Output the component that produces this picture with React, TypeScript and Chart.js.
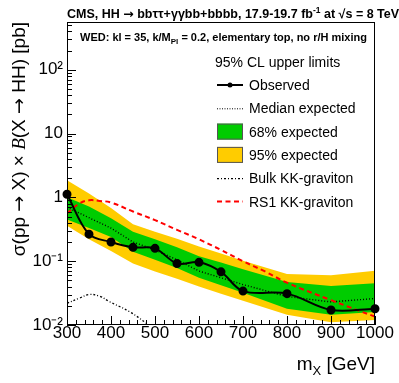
import React, { useEffect, useRef } from 'react';
import { Chart, registerables } from 'chart.js';

Chart.register(...registerables);

// ---------------- data ----------------
const masses = [300, 350, 400, 450, 500, 550, 600, 650, 700, 800, 900, 1000];
const observed = [1.12, 0.265, 0.2, 0.165, 0.159, 0.092, 0.096, 0.068, 0.034, 0.031, 0.0172, 0.018];
const medianExpected = [0.7, 0.48, 0.33, 0.2, 0.15, 0.105, 0.07, 0.055, 0.043, 0.028, 0.023, 0.026];
const band68Up = [1.0, 0.72, 0.47, 0.29, 0.22, 0.165, 0.12, 0.095, 0.075, 0.047, 0.041, 0.045];
const band68Down = [0.45, 0.33, 0.24, 0.14, 0.105, 0.078, 0.055, 0.042, 0.032, 0.018, 0.0145, 0.016];
const band95Up = [1.86, 1.15, 0.68, 0.38, 0.29, 0.225, 0.17, 0.132, 0.102, 0.063, 0.06, 0.071];
const band95Down = [0.36, 0.22, 0.145, 0.092, 0.069, 0.053, 0.04, 0.031, 0.024, 0.0145, 0.011, 0.012];

const rs1Mass = [300, 328, 350, 374, 400, 450, 500, 550, 600, 650, 700, 750, 800, 900, 1000];
const rs1Xsec = [0.56, 0.8, 0.9, 0.88, 0.83, 0.6, 0.44, 0.31, 0.22, 0.15, 0.1, 0.069, 0.046, 0.0245, 0.0135];

const bulkMass = [300, 328, 350, 374, 396, 442, 480, 520];
const bulkXsec = [0.0219, 0.0263, 0.03, 0.0284, 0.0233, 0.0162, 0.0107, 0.0068];

const xLabelValues = [300, 400, 500, 600, 700, 800, 900, 1000];
const yDecades = [0.01, 0.1, 1, 10, 100];
const yDecadeLabels = ['10\u207B\u00B2', '10\u207B\u00B9', '1', '10', '10\u00B2'];

const legendHeader = '95% CL upper limits';
const legendLabels = ['Observed', 'Median expected', '68% expected', '95% expected', 'Bulk KK-graviton', 'RS1 KK-graviton'];

// ---------------- style ----------------
const SANS = '"Liberation Sans", Arial, Helvetica, sans-serif';
const ARROW = '"DejaVu Sans", sans-serif';
const GREEN = '#00cc00';
const YELLOW = '#ffcc00';
const RED = '#ff0000';

type Seg = { t: string; f: string; dy?: number };

function richWidth(ctx: CanvasRenderingContext2D, segs: Seg[]) {
  let w = 0;
  for (const s of segs) {
    ctx.font = s.f;
    w += ctx.measureText(s.t).width;
  }
  return w;
}

function drawRich(ctx: CanvasRenderingContext2D, segs: Seg[], x: number, y: number, align: 'left' | 'right') {
  const w = richWidth(ctx, segs);
  let cx = align === 'right' ? x - w : x;
  ctx.textAlign = 'left';
  ctx.textBaseline = 'alphabetic';
  for (const s of segs) {
    ctx.font = s.f;
    ctx.fillText(s.t, cx, y + (s.dy || 0));
    cx += ctx.measureText(s.t).width;
  }
}

const rootPlugin = {
  id: 'rootDecor',
  afterDraw(chart: any) {
    const ctx: CanvasRenderingContext2D = chart.ctx;
    const { left, right, top, bottom } = chart.chartArea;
    const xs = chart.scales.x;
    const ys = chart.scales.y;
    ctx.save();

    // frame
    ctx.strokeStyle = '#000';
    ctx.lineWidth = 1;
    ctx.setLineDash([]);
    ctx.strokeRect(left + 0.5, top + 0.5, right - left - 1, bottom - top - 1);

    // inward ticks
    ctx.beginPath();
    for (const t of xs.ticks) {
      const px = Math.round(xs.getPixelForValue(t.value)) + 0.5;
      const len = xLabelValues.includes(t.value) ? 9 : 5;
      ctx.moveTo(px, bottom);
      ctx.lineTo(px, bottom - len);
    }
    for (const t of ys.ticks) {
      const py = Math.round(ys.getPixelForValue(t.value)) + 0.5;
      const len = yDecades.some((d) => Math.abs(d - t.value) / d < 1e-6) ? 9 : 5;
      ctx.moveTo(left, py);
      ctx.lineTo(left + len, py);
    }
    ctx.stroke();

    ctx.fillStyle = '#000';
    // top title
    drawRich(
      ctx,
      [
        { t: 'CMS, HH ', f: `bold 12.5px ${SANS}` },
        { t: '\u2192', f: `bold 12.5px ${ARROW}` },
        { t: ' bb\u03C4\u03C4+\u03B3\u03B3bb+bbbb, 17.9-19.7 fb', f: `bold 12.5px ${SANS}` },
        { t: '-1', f: `bold 8.5px ${SANS}`, dy: -5 },
        { t: ' at \u221As = 8 TeV', f: `bold 12.5px ${SANS}` },
      ],
      67,
      18,
      'left'
    );
    // inner text
    drawRich(
      ctx,
      [
        { t: 'WED: kl = 35, k/M', f: `bold 11px ${SANS}` },
        { t: 'Pl', f: `bold 8px ${SANS}`, dy: 3 },
        { t: ' = 0.2, elementary top, no r/H mixing', f: `bold 11px ${SANS}` },
      ],
      80,
      41,
      'left'
    );

    // legend
    const lx0 = 217;
    const lx1 = 243;
    const tx = 249;
    const y0 = 61.7;
    const dyL = 23.3;
    ctx.font = `14px ${SANS}`;
    ctx.textAlign = 'left';
    ctx.textBaseline = 'alphabetic';
    ctx.fillText(legendHeader, 215, y0 + 5);
    legendLabels.forEach((lab, i) => {
      const cy = y0 + dyL * (i + 1);
      ctx.save();
      if (i === 0) {
        ctx.strokeStyle = '#000';
        ctx.lineWidth = 2;
        ctx.beginPath();
        ctx.moveTo(lx0, cy);
        ctx.lineTo(lx1, cy);
        ctx.stroke();
        ctx.beginPath();
        ctx.arc((lx0 + lx1) / 2, cy, 2.5, 0, Math.PI * 2);
        ctx.fill();
      } else if (i === 1) {
        ctx.strokeStyle = '#000';
        ctx.lineWidth = 1;
        ctx.setLineDash([1, 1.5]);
        ctx.beginPath();
        ctx.moveTo(lx0, cy + 0.5);
        ctx.lineTo(lx1, cy + 0.5);
        ctx.stroke();
      } else if (i === 2 || i === 3) {
        ctx.fillStyle = i === 2 ? GREEN : YELLOW;
        ctx.fillRect(lx0, cy - 8, lx1 - lx0, 16);
        ctx.strokeStyle = '#555';
        ctx.lineWidth = 1;
        ctx.strokeRect(lx0 + 0.5, cy - 8 + 0.5, lx1 - lx0 - 1, 15);
      } else if (i === 4) {
        ctx.strokeStyle = '#000';
        ctx.lineWidth = 1.2;
        ctx.setLineDash([2, 2, 1, 2]);
        ctx.beginPath();
        ctx.moveTo(lx0, cy + 0.5);
        ctx.lineTo(lx1, cy + 0.5);
        ctx.stroke();
      } else {
        ctx.strokeStyle = RED;
        ctx.lineWidth = 2;
        ctx.setLineDash([5, 3.5]);
        ctx.beginPath();
        ctx.moveTo(lx0, cy);
        ctx.lineTo(lx1, cy);
        ctx.stroke();
      }
      ctx.restore();
      ctx.fillStyle = '#000';
      ctx.font = `14px ${SANS}`;
      ctx.textAlign = 'left';
      ctx.textBaseline = 'alphabetic';
      ctx.fillText(lab, tx, cy + 5);
    });

    // x title
    drawRich(
      ctx,
      [
        { t: 'm', f: `19px ${SANS}` },
        { t: 'X', f: `13px ${SANS}`, dy: 5 },
        { t: ' [GeV]', f: `19px ${SANS}` },
      ],
      right,
      370,
      'right'
    );

    // y title (rotated)
    ctx.save();
    ctx.translate(25, top);
    ctx.rotate(-Math.PI / 2);
    drawRich(
      ctx,
      [
        { t: '\u03C3(pp ', f: `19px ${SANS}` },
        { t: '\u2192', f: `19px ${ARROW}` },
        { t: ' X) \u00D7 ', f: `19px ${SANS}` },
        { t: 'B', f: `italic 19px "Liberation Serif", serif` },
        { t: '(X ', f: `19px ${SANS}` },
        { t: '\u2192', f: `19px ${ARROW}` },
        { t: ' HH) [pb]', f: `19px ${SANS}` },
      ],
      0,
      0,
      'right'
    );
    ctx.restore();

    ctx.restore();
  },
};

function pts(xv: number[], yv: number[]) {
  return xv.map((x, i) => ({ x, y: yv[i] }));
}

export default function App() {
  const ref = useRef<HTMLCanvasElement | null>(null);

  useEffect(() => {
    if (!ref.current) return;
    const noLine = 'rgba(0,0,0,0)';
    const chart = new Chart(ref.current, {
      type: 'line',
      data: {
        datasets: [
          {
            label: 'Observed',
            data: pts(masses, observed),
            borderColor: '#000',
            backgroundColor: '#000',
            pointBackgroundColor: '#000',
            pointBorderColor: '#000',
            borderWidth: 2,
            pointRadius: 3.5,
            tension: 0.35,
            fill: false,
            clip: false as any,
            order: 0,
          },
          {
            label: 'RS1',
            data: pts(rs1Mass, rs1Xsec),
            borderColor: RED,
            borderWidth: 2,
            borderDash: [5, 3.5],
            pointRadius: 0,
            tension: 0.4,
            fill: false,
            order: 1,
          },
          {
            label: 'Bulk',
            data: pts(bulkMass, bulkXsec),
            borderColor: '#000',
            borderWidth: 1.3,
            borderDash: [2, 2, 1, 2],
            pointRadius: 0,
            tension: 0.4,
            fill: false,
            order: 2,
          },
          {
            label: 'Median',
            data: pts(masses, medianExpected),
            borderColor: '#000',
            borderWidth: 1.4,
            borderDash: [1, 2],
            pointRadius: 0,
            tension: 0,
            fill: false,
            order: 3,
          },
          {
            label: '68up',
            data: pts(masses, band68Up),
            borderColor: noLine,
            borderWidth: 0,
            pointRadius: 0,
            backgroundColor: GREEN,
            fill: 5,
            tension: 0,
            order: 4,
          },
          {
            label: '68down',
            data: pts(masses, band68Down),
            borderColor: noLine,
            borderWidth: 0,
            pointRadius: 0,
            fill: false,
            tension: 0,
            order: 5,
          },
          {
            label: '95up',
            data: pts(masses, band95Up),
            borderColor: noLine,
            borderWidth: 0,
            pointRadius: 0,
            backgroundColor: YELLOW,
            fill: 7,
            tension: 0,
            order: 6,
          },
          {
            label: '95down',
            data: pts(masses, band95Down),
            borderColor: noLine,
            borderWidth: 0,
            pointRadius: 0,
            fill: false,
            tension: 0,
            order: 7,
          },
        ] as any,
      },
      options: {
        animation: false,
        responsive: false,
        maintainAspectRatio: false,
        devicePixelRatio: 1,
        layout: { padding: { top: 22, right: 24, left: 0, bottom: 0 } },
        plugins: {
          legend: { display: false },
          tooltip: { enabled: false },
          filler: { propagate: false },
        },
        scales: {
          x: {
            type: 'linear',
            min: 300,
            max: 1000,
            border: { display: false },
            grid: { display: false, drawTicks: false },
            ticks: {
              stepSize: 20,
              autoSkip: false,
              maxRotation: 0,
              padding: -2,
              color: '#000',
              font: { family: SANS, size: 17 },
              callback: (v: any) => (xLabelValues.includes(Number(v)) ? String(v) : ''),
            },
            afterFit: (s: any) => {
              s.height = 58;
            },
          },
          y: {
            type: 'logarithmic',
            min: 0.01,
            max: 560,
            border: { display: false },
            grid: { display: false, drawTicks: false },
            afterBuildTicks: (s: any) => {
              const t: { value: number }[] = [];
              for (const d of yDecades) {
                for (let k = 1; k <= 9; k++) {
                  const v = d * k;
                  if (v <= 560) t.push({ value: v });
                }
              }
              s.ticks = t;
            },
            ticks: {
              autoSkip: false,
              padding: 4,
              color: '#000',
              font: { family: SANS, size: 17 },
              callback: (v: any) => {
                const idx = yDecades.findIndex((d) => Math.abs(d - Number(v)) / d < 1e-6);
                return idx >= 0 ? yDecadeLabels[idx] : '';
              },
            },
            afterFit: (s: any) => {
              s.width = 67;
            },
          },
        },
      } as any,
      plugins: [rootPlugin],
    });
    return () => chart.destroy();
  }, []);

  return (
    <div style={{ position: 'absolute', left: 0, top: 0, width: 399, height: 383, background: '#fff' }}>
      <canvas ref={ref} width={399} height={383} style={{ display: 'block', width: 399, height: 383 }} />
    </div>
  );
}
